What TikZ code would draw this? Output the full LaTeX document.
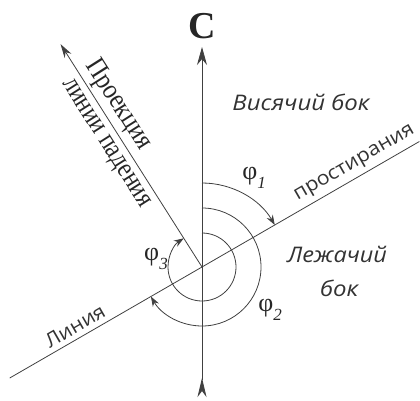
\documentclass[tikz,border=0pt]{standalone}
\usepackage{fontspec}
\setmainfont{Liberation Serif}
\newfontfamily\sidefont{Open Sans}
\usetikzlibrary{arrows.meta,calc}

\newcommand{\ang}[1]{φ\raisebox{-0.35em}{\fontsize{17}{17}\selectfont\itshape #1}}
\newcommand{\fitw}[2]{\resizebox{#1}{\height}{#2}}

\begin{document}
\begin{tikzpicture}[x=1pt,y=1pt,line width=0.8pt,color=black!75,
  arctip/.style={-{Stealth[length=10pt,width=7pt]}},
  sidelbl/.style={font=\sidefont\itshape\fontsize{21.5}{24}\selectfont,text=black!80},
  linelbl/.style={font=\sidefont\fontsize{19.5}{21}\selectfont,text=black!80},
  serlbl/.style={font=\fontsize{28}{30}\selectfont,text=black!85},
  anglbl/.style={font=\fontsize{26}{28}\selectfont,text=black!85}]
  \useasboundingbox (0,0) rectangle (420,400);
  % centre and ends of the lines
  \coordinate (O) at (202,133);
  \coordinate (N) at (202,353);
  \coordinate (S) at (202,3);
  \coordinate (strikeE) at ($(O)+(30:251)$);
  \coordinate (strikeW) at ($(O)+(210:222)$);
  \coordinate (dip) at ($(O)+(122.4:264)$);
  % north
  \draw[{Stealth[length=19pt,width=9pt,inset=6pt,reversed]}-{Stealth[length=18pt,width=10pt]}] (S) -- (N);
  \node[font=\bfseries\fontsize{38}{40}\selectfont,text=black!85] (north) at (202,374) {C};
  % strike line and dip projection
  \draw (strikeW) -- (strikeE);
  \draw[-{Stealth[length=14pt,width=8pt]}] (O) -- (dip);
  % angles
  \draw[arctip] ([shift={(90:84)}]O) arc[start angle=90,end angle=30,radius=84];
  \draw[arctip] ([shift={(90:59)}]O) arc[start angle=90,end angle=-150,radius=59];
  \draw[arctip] ([shift={(90:34)}]O) arc[start angle=90,end angle=-237.6,radius=34];
  \node[anglbl] (phi1) at (254,222) {\ang{1}};
  \node[anglbl] (phi2) at (270,90) {\ang{2}};
  \node[anglbl] (phi3) at (156,141) {\ang{3}};
  % labels
  \node[sidelbl] (hang) at (301,298) {\fitw{137pt}{Висячий бок}};
  \node[sidelbl] (foot1) at (337,146) {\fitw{100pt}{Лежачий}};
  \node[sidelbl] (foot2) at (339,112) {\fitw{38pt}{бок}};
  \node[linelbl,rotate=30] (strk) at (355,236) {\fitw{136pt}{простирания}};
  \node[linelbl,rotate=30] (line) at (75,74) {\fitw{66pt}{Линия}};
  \node[serlbl,rotate=-57.6] (proj1) at (118,295) {\fitw{102pt}{Проекция}};
  \node[serlbl,rotate=-57.6] (proj2) at (105,256) {\fitw{148pt}{линии падения}};
\end{tikzpicture}
\end{document}
